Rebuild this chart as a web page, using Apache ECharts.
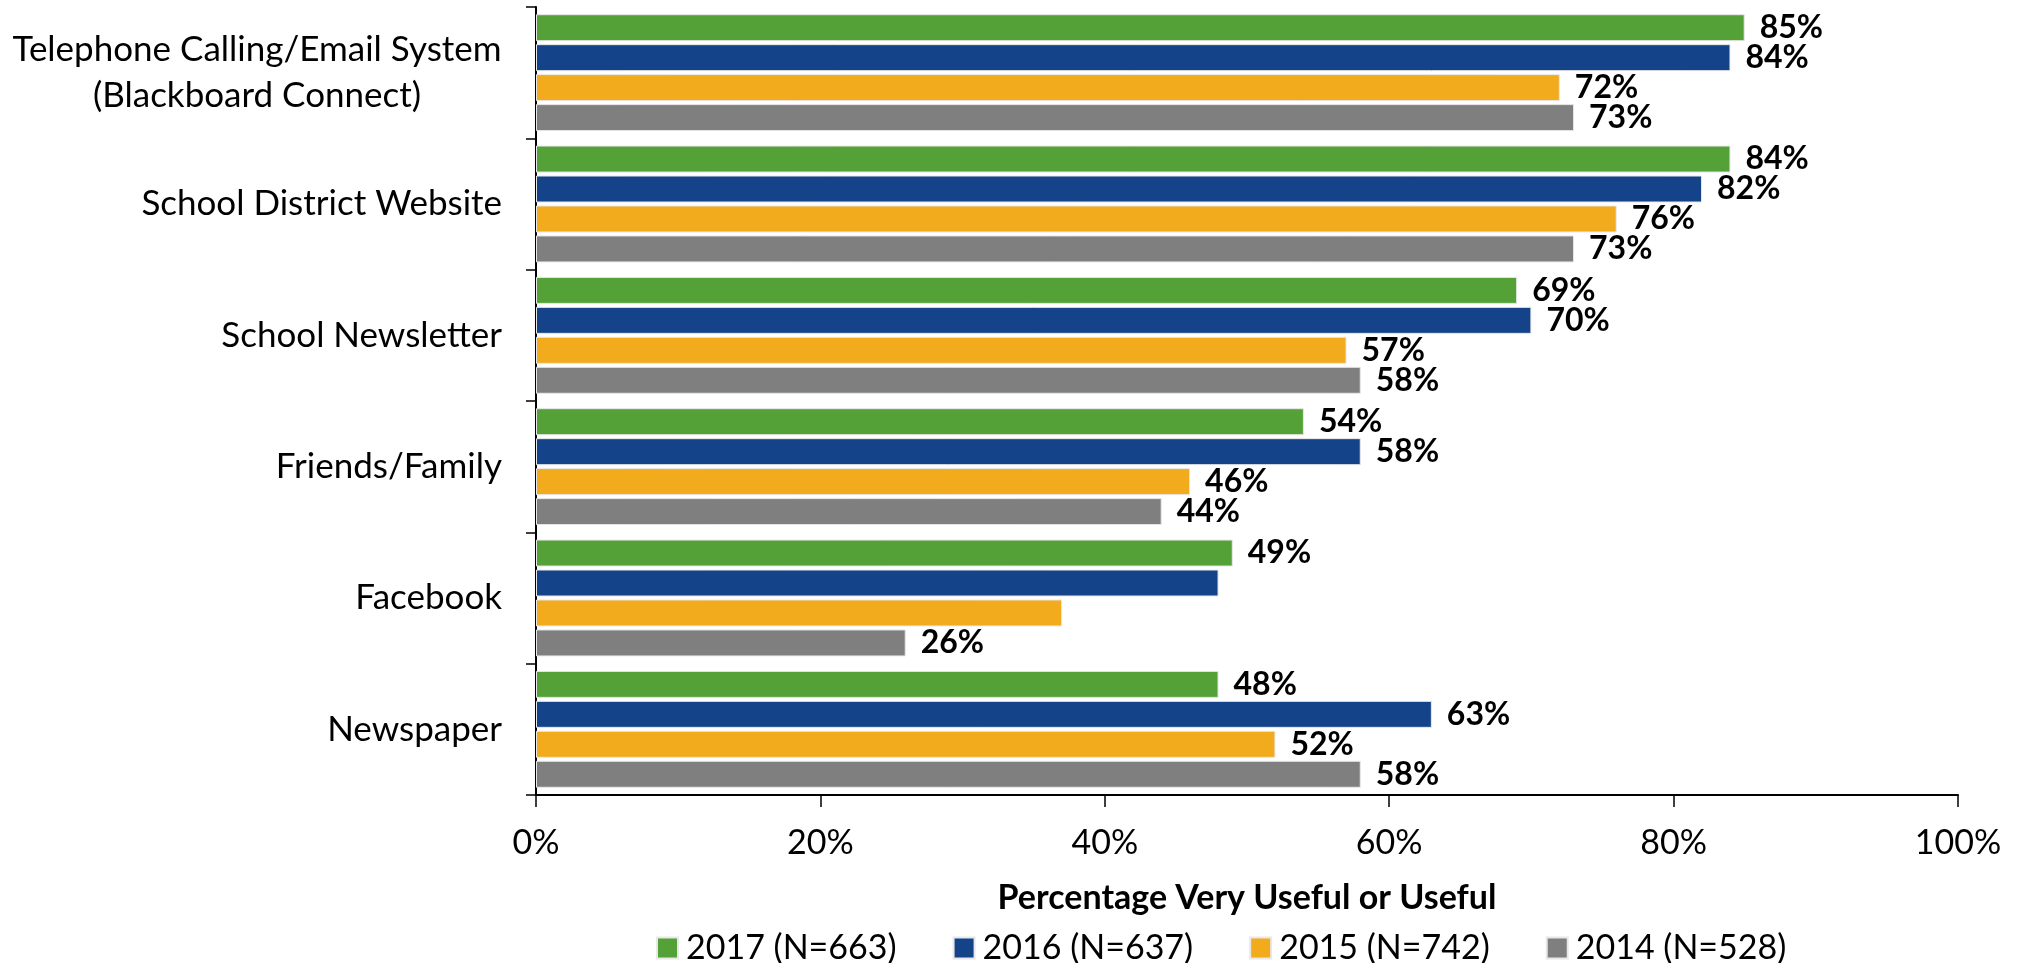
<!DOCTYPE html>
<html>
<head>
<meta charset="utf-8">
<script src="https://cdn.jsdelivr.net/npm/echarts@6/dist/echarts.min.js"></script>
<style>
html,body{margin:0;padding:0;background:#fff;}
#chart{width:2020px;height:963px;}
</style>
</head>
<body>
<div id="chart"></div>
<script>
const categories = [
  "Telephone Calling/Email System\n(Blackboard Connect)",
  "School District Website",
  "School Newsletter",
  "Friends/Family",
  "Facebook",
  "Newspaper"
];
const seriesNames = ["2017 (N=663)", "2016 (N=637)", "2015 (N=742)", "2014 (N=528)"];
const values2017 = [85, 84, 69, 54, 49, 48];
const values2016 = [84, 82, 70, 58, 48, 63];
const values2015 = [72, 76, 57, 46, 37, 52];
const values2014 = [73, 73, 58, 44, 26, 58];
// labels not shown in the reference: [seriesIndex, categoryIndex]
const hiddenLabels = [[1, 4], [2, 4]];
const xTicks = [0, 20, 40, 60, 80, 100];

const colors = ["#53A137", "#14438A", "#F2AB1C", "#7F7F7F"];
const FONT = "Lato";
const CAT_FS = 35;
const allValues = [values2017, values2016, values2015, values2014];

const ctx = document.createElement('canvas').getContext('2d');
ctx.font = CAT_FS + "px " + FONT;
const firstLineW = Math.ceil(ctx.measureText("Telephone Calling/Email System").width);

const chart = echarts.init(document.getElementById('chart'));
const series = seriesNames.map((name, si) => ({
  name: name,
  type: 'bar',
  barGap: '11%',
  barCategoryGap: '11%',
  itemStyle: { color: colors[si], borderColor: '#e8e8e8', borderWidth: 1 },
  label: {
    show: true,
    position: 'right',
    distance: 15,
    color: '#000',
    fontFamily: FONT,
    fontWeight: 'bold',
    fontSize: 32,
    formatter: p => p.value + '%'
  },
  data: allValues[si].map((v, ci) => {
    const hide = hiddenLabels.some(h => h[0] === si && h[1] === ci);
    return hide ? { value: v, label: { show: false } } : v;
  })
}));

chart.setOption({
  animation: false,
  color: colors,
  grid: { left: 536, right: 62, top: 7, bottom: 168, containLabel: false },
  legend: {
    top: 926,
    left: 651,
    itemWidth: 21,
    itemHeight: 21,
    itemGap: 56,
    icon: 'rect',
    textStyle: { fontFamily: FONT, fontSize: 34, color: '#000', padding: [0, 0, 0, 3] },
    data: seriesNames
  },
  xAxis: {
    type: 'value',
    min: 0,
    max: 100,
    interval: 20,
    name: 'Percentage Very Useful or Useful',
    nameLocation: 'middle',
    nameGap: 86,
    nameTextStyle: { fontFamily: FONT, fontSize: 34, fontWeight: 'bold', color: '#000' },
    axisLine: { show: true, lineStyle: { color: '#000', width: 2 } },
    axisTick: { show: true, length: 12, lineStyle: { color: '#000', width: 1.5 } },
    splitLine: { show: false },
    axisLabel: {
      fontFamily: FONT, fontSize: 34, color: '#000', margin: 31,
      formatter: v => xTicks.includes(v) ? v + '%' : ''
    }
  },
  yAxis: {
    type: 'category',
    inverse: true,
    data: categories,
    axisLine: { show: true, lineStyle: { color: '#000', width: 2 } },
    axisTick: { show: true, length: 10, lineStyle: { color: '#000', width: 1.5 } },
    axisLabel: {
      fontFamily: FONT, fontSize: CAT_FS, color: '#000', margin: 34, lineHeight: 46,
      formatter: v => {
        if (v.indexOf('\n') >= 0) {
          return v.split('\n').map(s => '{c|' + s + '}').join('\n');
        }
        return v;
      },
      rich: { c: { fontFamily: FONT, fontSize: CAT_FS, color: '#000', width: firstLineW, align: 'center', lineHeight: 46 } }
    }
  },
  series: series
});
</script>
</body>
</html>
